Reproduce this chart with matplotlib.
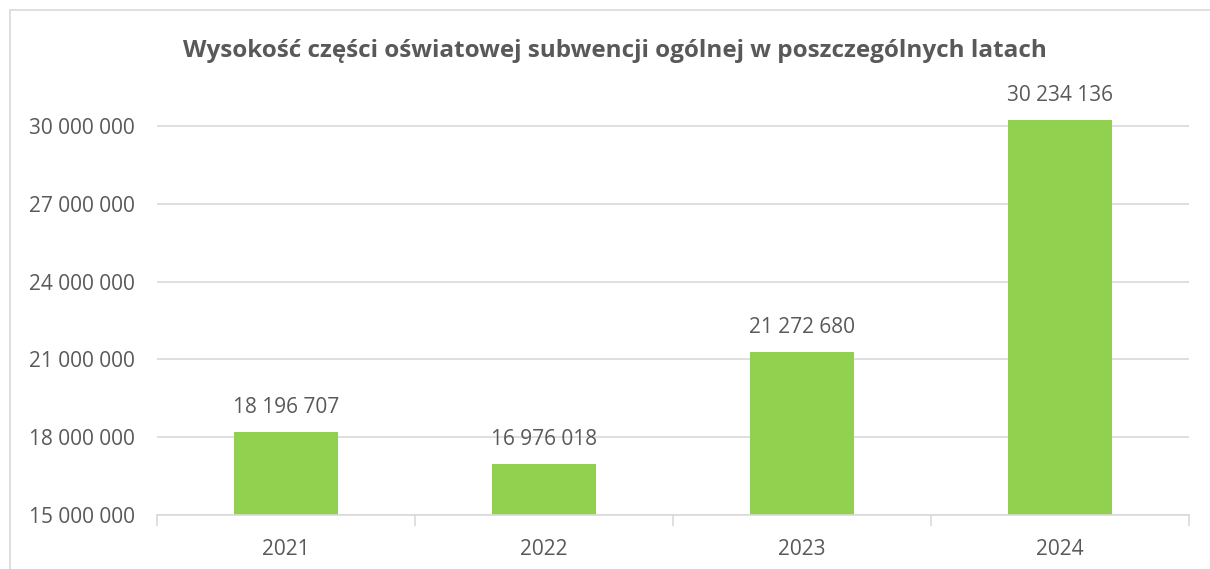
import matplotlib
matplotlib.use("Agg")
import matplotlib.pyplot as plt
from matplotlib.patches import Rectangle
from matplotlib.ticker import FuncFormatter

categories = ["2021", "2022", "2023", "2024"]
values = [18196707, 16976018, 21272680, 30234136]
yticks = [15000000, 18000000, 21000000, 24000000, 27000000, 30000000]
title = "Wysokość części oświatowej subwencji ogólnej w poszczególnych latach"

plt.rcParams['font.family'] = ['Open Sans', 'DejaVu Sans']
TXT = "#595959"
GRID = "#d9d9d9"

def fmt(v, pos=None):
    return f"{int(round(v)):,}".replace(",", " ")

fig = plt.figure(figsize=(12.1, 5.69), dpi=100)
fig.patch.set_facecolor("white")
fig.patches.append(Rectangle((10/1210, -0.1), 1.2, 1 - 10/569 + 0.1, transform=fig.transFigure,
                             fill=False, edgecolor=GRID, linewidth=1.2))

ax = fig.add_axes([157/1210, 1 - 515/569, (1189-157)/1210, (515-100)/569])
x = list(range(len(categories)))
ax.bar(x, values, width=0.4, color="#92D050", zorder=3)
ax.set_xlim(-0.5, len(categories) - 0.5)
ax.set_ylim(15000000, 31000000)
ax.set_yticks(yticks)
ax.yaxis.set_major_formatter(FuncFormatter(fmt))
ax.set_xticks(x)
ax.set_xticklabels(categories)
ax.set_xticks([i - 0.5 for i in range(len(categories) + 1)], minor=True)
ax.tick_params(axis='x', which='major', length=0, pad=17, labelsize=15, colors=TXT)
ax.tick_params(axis='x', which='minor', length=8, color=GRID, width=1.2)
ax.tick_params(axis='y', length=0, pad=16, labelsize=15, colors=TXT)
ax.grid(axis='y', color=GRID, linewidth=1.2, zorder=0)
for s in ["top", "right", "left"]:
    ax.spines[s].set_visible(False)
ax.spines["bottom"].set_color(GRID)
ax.spines["bottom"].set_linewidth(1.2)
ax.spines["bottom"].set_zorder(4)

for xi, v in zip(x, values):
    ax.annotate(fmt(v), (xi, v), xytext=(0, 10), textcoords="offset points",
                ha="center", va="bottom", fontsize=15, color=TXT)

fig.text(0.5 * (178 + 1052) / 1210, 1 - 51/569, title, ha="center", va="center",
         fontsize=17.5, fontweight="bold", color=TXT)

fig.savefig("out.png", dpi=100)
